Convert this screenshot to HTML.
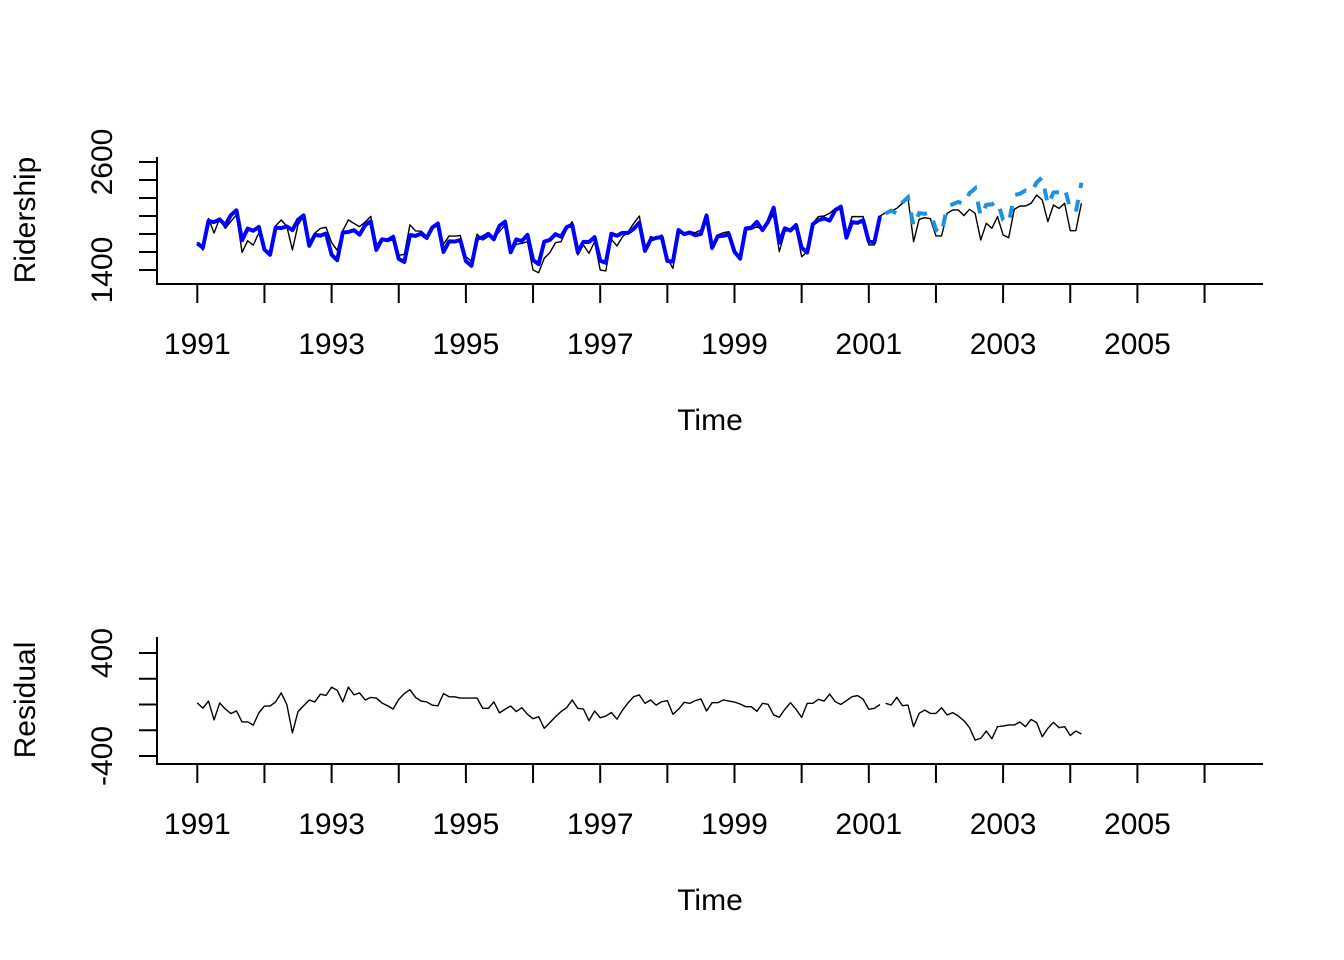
<!DOCTYPE html>
<html><head><meta charset="utf-8"><style>
html,body{margin:0;padding:0;background:#fff;}
svg{display:block;font-family:"Liberation Sans",Arial,sans-serif;}
</style></head><body>
<svg id="chart" width="1344" height="960" viewBox="0 0 1344 960" xmlns="http://www.w3.org/2000/svg">
<rect width="1344" height="960" fill="#fff"/>
<g id="gtop"></g>
<g id="gbot"></g>
</svg>
<script>
const startYear = 1991;
const nTrain = 123;
const actual = [
1708.917,1620.586,1972.715,1811.665,1974.964,1862.356,1939.860,2013.264,1595.657,1724.924,1675.667,1813.863,
1614.827,1557.088,1891.223,1955.981,1884.714,1623.042,1903.309,1996.712,1703.897,1810.000,1861.601,1875.122,
1705.259,1618.535,1836.709,1957.043,1917.185,1882.398,1933.009,1996.167,1672.841,1752.827,1720.377,1734.292,
1563.365,1573.959,1902.639,1833.888,1831.049,1775.755,1867.508,1906.608,1685.632,1778.546,1775.995,1783.350,
1548.415,1496.925,1798.316,1732.895,1772.345,1761.207,
1826,1900,1585,1685,1696,1715,
1400,1370,1530,1593,1703,1715,1852,1937,1567,1678,1585,1715,
1400,1390,1741,1667,1770,1826,1919,2000,1622,1770,1752,1789,
1530,1418,1807,1815,1826,1815,1844,1956,1659,1789,1815,1826,
1622,1530,1844,1852,1881,1852,1937,2011,1604,1826,1852,1863,
1548,1604,1919,1993,2000,2030,2085,2104,1789,1993,1993,1993,
1678,1678,2000,2037,2056,2085,2141,2204,1715,1963,1981,1970,
1778,1778,2030,2067,2067,2004,2074,2030,1733,1919,1863,1993,
1789,1759,2074,2111,2111,2141,2233,2178,1937,2122,2085,2141,
1837,1837,2141];
const residual = [
12,-28,27,-120,12,-35,-70,-50,-135,-135,-160,-65,
-12,-12,20,90,0,-220,-55,-10,35,20,80,70,
135,110,20,135,75,90,35,55,50,12,-10,-35,
40,85,115,55,27,20,-5,-10,85,60,60,50,
50,50,50,-30,-30,20,-65,-37,-12,-55,-25,-76,
-110,-95,-185,-141,-95,-55,-25,35,-30,-35,-126,-50,
-103,-90,-62,-114,-43,14,61,74,9,35,-5,22,
30,-76,-37,17,9,30,43,-50,14,14,35,27,
19,4,-17,-17,-53,9,1,-81,-99,-37,14,-37,
-100,9,9,40,27,81,22,0,30,61,69,40,
-37,-30,0,9,-4,56,-9,-4,-172,-69,-43,-69,
-69,-25,-81,-63,-90,-126,-180,-276,-263,-206,-266,-172,
-167,-159,-159,-136,-172,-116,-141,-250,-185,-139,-180,-172,
-241,-206,-229];
const xTicks = [1991,1992,1993,1994,1995,1996,1997,1998,1999,2000,2001,2002,2003,2004,2005,2006];
const xLabels = [1991,1993,1995,1997,1999,2001,2003,2005];
const topTicks = [1400,1600,1800,2000,2200,2400,2600];
const topLabels = [1400,2600];
const botTicks = [-400,-200,0,200,400];
const botLabels = [-400,400];

const NS = "http://www.w3.org/2000/svg";
const xs = t => 197.3 + (t - 1991) * 67.15;
const yTop = v => 270 - (v - 1400) * 0.09;
const yBot = v => 704.5 - v * 0.1288;
const tOf = i => startYear + i / 12;
function mk(tag, attrs, parent){const e=document.createElementNS(NS,tag);for(const k in attrs)e.setAttribute(k,attrs[k]);parent.appendChild(e);return e;}
function pts(arr, fy, off){return arr.map((v,i)=>xs(tOf(i+off)).toFixed(2)+','+fy(v).toFixed(2)).join(' ');}

function panel(g, fy, axisY, boxTop, ticks, labels, ylab, labY, timeY){
  const box = mk('polyline',{points:`157,${boxTop} 157,${axisY} 1263,${axisY}`,fill:'none',stroke:'#000','stroke-width':2},g);
  
  
  xTicks.forEach(t=>{
    const l=mk('line',{x1:xs(t),x2:xs(t),y1:axisY,y2:axisY+19,stroke:'#000','stroke-width':2},g);
    
    
  });
  xLabels.forEach(t=>{
    const tx=mk('text',{x:xs(t),y:axisY+70,'font-size':30,'text-anchor':'middle',fill:'#000'},g);
    tx.textContent=t;
    
    
  });
  ticks.forEach(v=>{
    const l=mk('line',{x1:139,x2:157,y1:fy(v),y2:fy(v),stroke:'#000','stroke-width':2},g);
    
    
  });
  labels.forEach(v=>{
    const y=fy(v);
    const tx=mk('text',{x:0,y:0,'font-size':30,'text-anchor':'middle',fill:'#000',transform:`translate(112,${y}) rotate(-90)`},g);
    tx.textContent=v;
    
    
  });
  const yl=mk('text',{x:0,y:0,'font-size':30,'text-anchor':'middle',fill:'#000',transform:`translate(35,${labY}) rotate(-90)`},g);
  yl.textContent=ylab;
  
  
  const xl=mk('text',{x:710,y:timeY,'font-size':30,'text-anchor':'middle',fill:'#000'},g);
  xl.textContent='Time';
  
  
}

const gTop = document.getElementById('gtop');
const gBot = document.getElementById('gbot');
panel(gTop, yTop, 284, 157, topTicks, topLabels, 'Ridership', 220, 430);
panel(gBot, yBot, 764, 637, botTicks, botLabels, 'Residual', 700, 910);

const fitted = actual.map((v,i)=>v - residual[i]);
const trainFit = fitted.slice(0,nTrain);
const forecast = fitted.slice(nTrain);

const aLine = mk('polyline',{points:pts(actual,yTop,0),fill:'none',stroke:'#000','stroke-width':1.4,'stroke-linejoin':'round'},gTop);


const fLine = mk('polyline',{points:pts(trainFit,yTop,0),fill:'none',stroke:'#0000ff','stroke-width':4,'stroke-linejoin':'round'},gTop);


const fcLine = mk('polyline',{points:pts(forecast,yTop,nTrain),fill:'none',stroke:'#1e90e0','stroke-width':4,'stroke-dasharray':'12 12'},gTop);



const r1 = mk('polyline',{points:pts(residual.slice(0,nTrain),yBot,0),fill:'none',stroke:'#000','stroke-width':1.4,'stroke-linejoin':'round'},gBot);


const r2 = mk('polyline',{points:pts(residual.slice(nTrain),yBot,nTrain),fill:'none',stroke:'#000','stroke-width':1.4,'stroke-linejoin':'round'},gBot);


</script>
</body></html>
